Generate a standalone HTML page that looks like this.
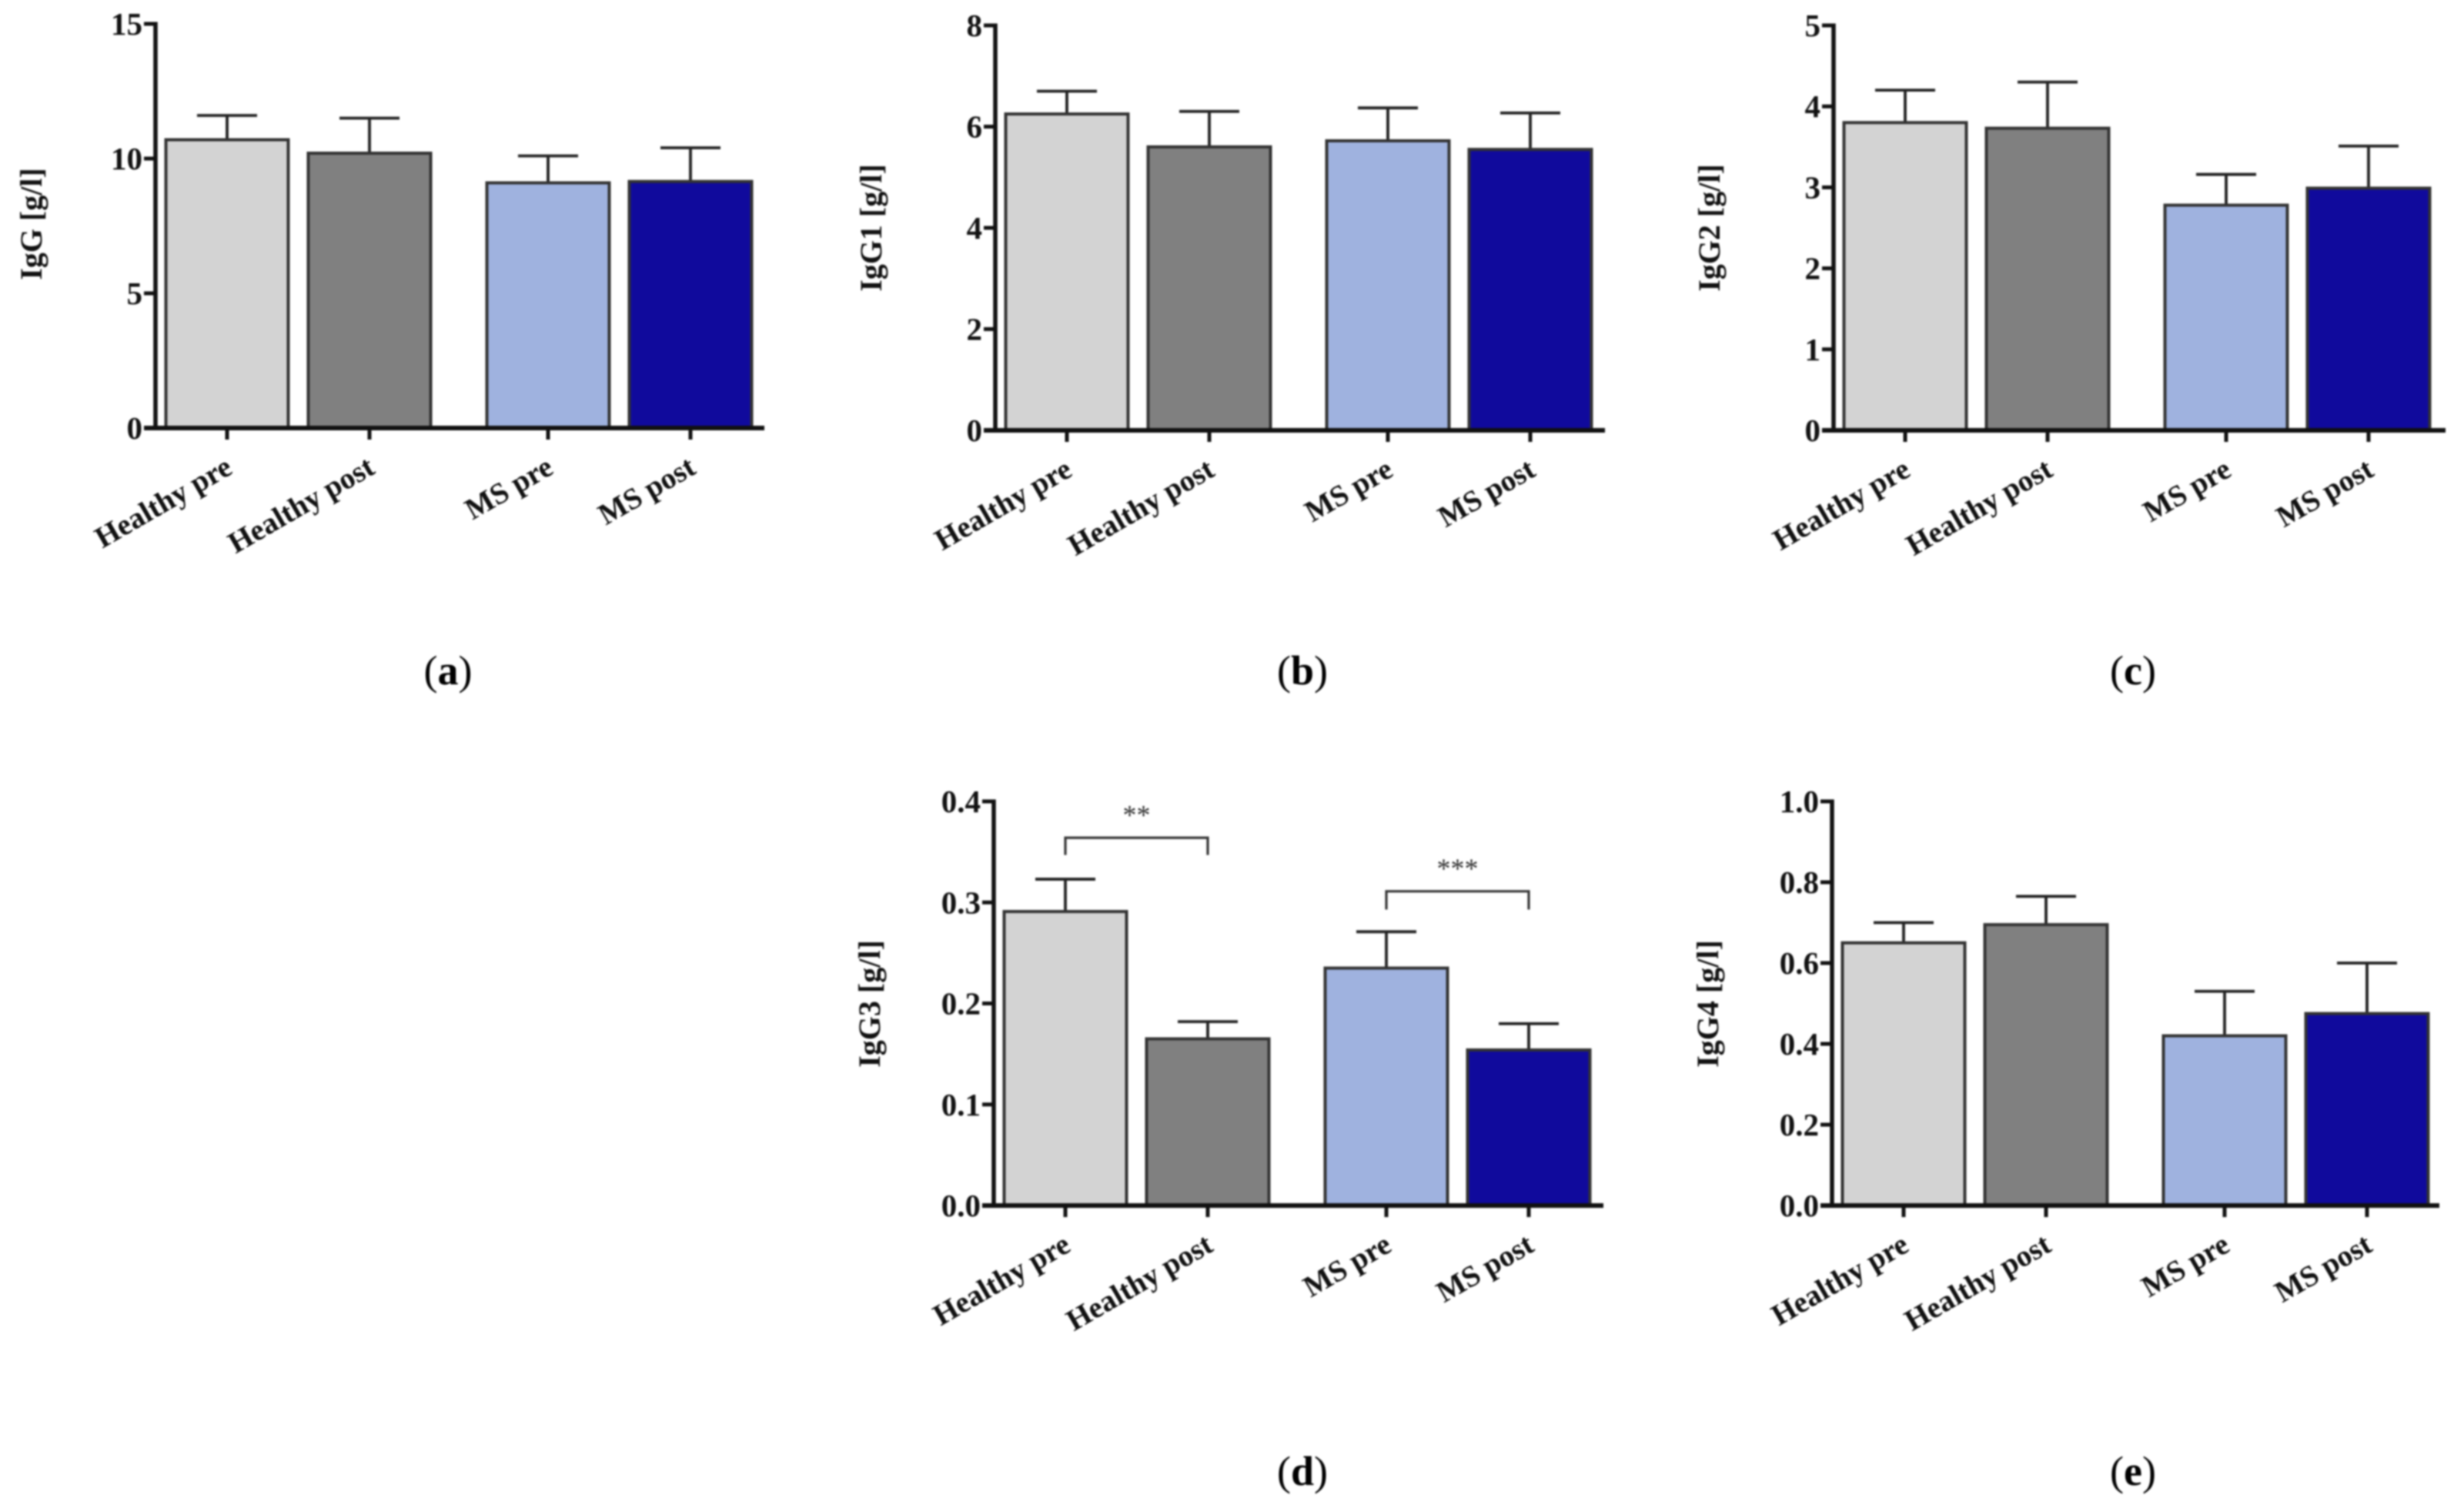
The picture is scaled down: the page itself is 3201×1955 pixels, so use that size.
<!DOCTYPE html>
<html lang="en">
<head>
<meta charset="utf-8">
<title>IgG subclasses, healthy vs MS, pre and post</title>
<style>
  html, body { margin: 0; padding: 0; background: #fff; }
  body { width: 3201px; height: 1955px; overflow: hidden; }
  svg { display: block; filter: blur(1px); }
  text { font-family: "Liberation Serif", serif; font-weight: bold; fill: #111; }
</style>
</head>
<body>
<svg id="figure" xmlns="http://www.w3.org/2000/svg" width="3201" height="1955" viewBox="0 0 3201 1955"></svg>
<script>
const categories = ["Healthy pre", "Healthy post", "MS pre", "MS post"];

const iggMeans = [10.7, 10.2, 9.1, 9.15];
const iggUpper = [11.6, 11.5, 10.1, 10.4];
const iggTicks = ["0", "5", "10", "15"];

const igg1Means = [6.25, 5.6, 5.72, 5.55];
const igg1Upper = [6.7, 6.3, 6.37, 6.27];
const igg1Ticks = ["0", "2", "4", "6", "8"];

const igg2Means = [3.8, 3.73, 2.78, 2.99];
const igg2Upper = [4.2, 4.3, 3.16, 3.51];
const igg2Ticks = ["0", "1", "2", "3", "4", "5"];

const igg3Means = [0.291, 0.165, 0.235, 0.154];
const igg3Upper = [0.323, 0.182, 0.271, 0.18];
const igg3Ticks = ["0.0", "0.1", "0.2", "0.3", "0.4"];

const igg4Means = [0.65, 0.695, 0.42, 0.475];
const igg4Upper = [0.7, 0.765, 0.53, 0.6];
const igg4Ticks = ["0.0", "0.2", "0.4", "0.6", "0.8", "1.0"];

const igg3Significance = [
  { from: 0, to: 1, level: 0.364, legEnd: 0.347, stars: "**" },
  { from: 2, to: 3, level: 0.311, legEnd: 0.293, stars: "***" }
];

const barFills = ["#d3d3d3", "#808080", "#9fb2df", "#100a9c"];
const SVGNS = "http://www.w3.org/2000/svg";
const figure = document.getElementById("figure");

function make(parent, tag, attrs, content) {
  const el = document.createElementNS(SVGNS, tag);
  for (const k in attrs) el.setAttribute(k, attrs[k]);
  if (content !== undefined) el.textContent = content;
  parent.appendChild(el);
  return el;
}

function drawPanel(p) {
  const g = make(figure, "g", {});
  
  

  const maxY = parseFloat(p.ticks[p.ticks.length - 1]);
  const yScale = v => p.bottom - (v / maxY) * (p.bottom - p.top);
  const xScale = i => p.axisX + 93 + i * 185 + (i >= 2 ? 47 : 0);
  const barWidth = 159;

  categories.forEach((name, i) => {
    const cx = xScale(i);
    const err = make(g, "path", {
      d: "M" + cx + " " + yScale(p.means[i]) + "V" + yScale(p.upper[i]) +
         "M" + (cx - 39) + " " + yScale(p.upper[i]) + "H" + (cx + 39),
      fill: "none", stroke: "#222", "stroke-width": 3.8
    });
    
    

    const bar = make(g, "rect", {
      x: cx - barWidth / 2, y: yScale(p.means[i]),
      width: barWidth, height: p.bottom - yScale(p.means[i]),
      fill: barFills[i], stroke: "#333", "stroke-width": 4
    });
    
    

    const tick = make(g, "line", {
      x1: cx, x2: cx, y1: p.bottom, y2: p.bottom + 15,
      stroke: "#111", "stroke-width": 5
    });
    
    

    const lx = cx + 9, ly = p.bottom + 58;
    const label = make(g, "text", {
      x: lx, y: ly, "text-anchor": "end", "font-size": 39,
      transform: "rotate(-30 " + lx + " " + ly + ")"
    }, name);
    
    
  });

  const yAxis = make(g, "line", {
    x1: p.axisX, x2: p.axisX, y1: p.top - 2.5, y2: p.bottom + 3,
    stroke: "#111", "stroke-width": 5.5
  });
  
  

  const xAxis = make(g, "line", {
    x1: p.axisX - 15, x2: p.right, y1: p.bottom, y2: p.bottom,
    stroke: "#111", "stroke-width": 6
  });
  
  

  p.ticks.forEach(t => {
    const y = yScale(parseFloat(t));
    const tick = make(g, "line", {
      x1: p.axisX - 15, x2: p.axisX, y1: y, y2: y,
      stroke: "#111", "stroke-width": 5
    });
    
    

    const label = make(g, "text", {
      x: p.axisX - 17, y: y + 14, "text-anchor": "end", "font-size": 41
    }, t);
    
    
  });

  const tx = p.axisX - 148, ty = p.titleY;
  const title = make(g, "text", {
    x: tx, y: ty, "text-anchor": "middle", "font-size": 40,
    "xml:space": "preserve",
    transform: "rotate(-90 " + tx + " " + ty + ")"
  }, p.title);
  
  

  (p.significance || []).forEach(s => {
    const x1 = xScale(s.from), x2 = xScale(s.to);
    const bracket = make(g, "path", {
      d: "M" + x1 + " " + yScale(s.legEnd) + "V" + yScale(s.level) + "H" + x2 + "V" + yScale(s.legEnd),
      fill: "none", stroke: "#333", "stroke-width": 3.2
    });
    
    

    const stars = make(g, "text", {
      x: (x1 + x2) / 2, y: yScale(s.level) - 18, "text-anchor": "middle",
      "font-size": 36, style: "font-weight:normal;fill:#333"
    }, s.stars);
    
    
  });

  const cap = make(g, "text", {
    x: p.capX, y: p.capY, "text-anchor": "middle", "font-size": 54,
    style: "font-weight:normal;fill:#000"
  });
  
  
  make(cap, "tspan", {}, "(");
  make(cap, "tspan", { style: "font-weight:bold" }, p.letter);
  make(cap, "tspan", {}, ")");
}

drawPanel({ letter: "a", title: "IgG [g/l]", means: iggMeans, upper: iggUpper, ticks: iggTicks,
  axisX: 202, top: 31, bottom: 556, right: 993, titleY: 291, capX: 582, capY: 889 });
drawPanel({ letter: "b", title: "IgG1  [g/l]", means: igg1Means, upper: igg1Upper, ticks: igg1Ticks,
  axisX: 1293, top: 33, bottom: 559, right: 2085, titleY: 296, capX: 1692, capY: 889 });
drawPanel({ letter: "c", title: "IgG2  [g/l]", means: igg2Means, upper: igg2Upper, ticks: igg2Ticks,
  axisX: 2382, top: 33, bottom: 559, right: 3177, titleY: 296, capX: 2771, capY: 889 });
drawPanel({ letter: "d", title: "IgG3 [g/l]", means: igg3Means, upper: igg3Upper, ticks: igg3Ticks,
  significance: igg3Significance,
  axisX: 1291, top: 1041, bottom: 1566, right: 2083, titleY: 1304, capX: 1692, capY: 1929 });
drawPanel({ letter: "e", title: "IgG4 [g/l]", means: igg4Means, upper: igg4Upper, ticks: igg4Ticks,
  axisX: 2380, top: 1041, bottom: 1566, right: 3169, titleY: 1304, capX: 2771, capY: 1929 });
</script>
</body>
</html>
